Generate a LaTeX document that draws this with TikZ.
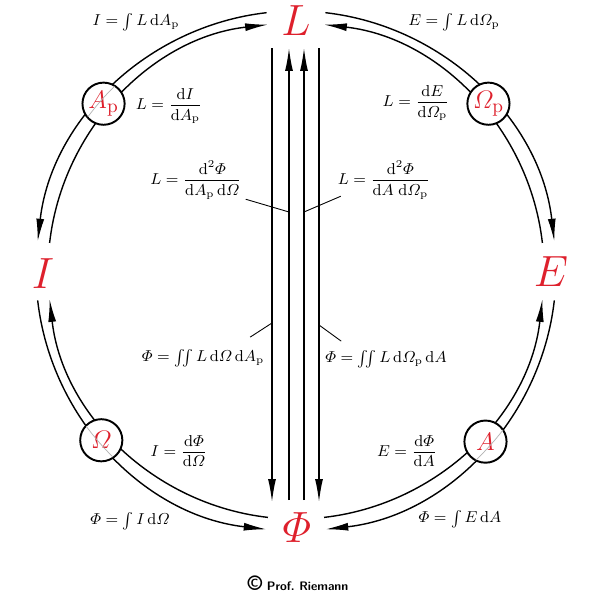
\documentclass[tikz,border=0pt]{standalone}
\usepackage{amsmath}
\usetikzlibrary{arrows.meta,calc,backgrounds}
\definecolor{QuantityRed}{RGB}{222,32,44}
\tikzset{%
	% Style of the radiometric quantity
	Quantity/.style={font=\fontsize{32}{32}\selectfont,text=QuantityRed,inner sep=0},
	% Style of the circled measure
	Measure/.style={circle,draw=black,line width=1.1pt,fill=white,inner sep=0,
		minimum size=24pt,text=QuantityRed,font=\fontsize{15}{15}\selectfont},
	% Style of the formula
	Formula/.style={font=\small,inner sep=1pt},
	% Style of the circular flow
	Flow/.style={line width=0.8pt,-{Latex[length=13pt,width=4.5pt]}},
	% Style of the vertical beam
	Beam/.style={line width=0.8pt},
	% Style of the leader line
	Leader/.style={line width=0.5pt},
	% Style of the line seen through a circle
	Trace/.style={gray!60,line width=0.4pt},
}

\begin{document}
\begin{tikzpicture}[x=0.02cm,y=0.02cm] % STYLES
\useasboundingbox (0,0) rectangle (600,600);

%~~~~~~~~~~~~~~~~~~~~~~~~~~~~~~~~~~~~~~~~~~~~~~~~~~
% Set Nodes
%~~~~~~~~~~~~~~~~~~~~~~~~~~~~~~~~~~~~~~~~~~~~~~~~~~
\coordinate (O) at (296, 329);

\node[Quantity] (L) at (296, 579) {$L$};
\node[Quantity] (I) at (43, 326) {$I$};
\node[Quantity] (E) at (551, 328) {$E$};
\node[Quantity] (Phi) at (297, 72) {$\varPhi$};

\node[Measure] (Ap) at ($(O)+(139:255)$) {$A_\mathrm{p}$};
\node[Measure] (Omp) at ($(O)+(41:255)$) {$\varOmega_\mathrm{p}$};
\node[Measure] (Om) at ($(O)+(221:258)$) {$\varOmega$};
\node[Measure] (A) at ($(O)+(318:255)$) {$A$};

\node[Formula] (IfromL) at (136, 578) {$I=\int L\,\mathrm{d}A_\mathrm{p}$};
\node[Formula] (EfromL) at (454, 578) {$E=\int L\,\mathrm{d}\varOmega_\mathrm{p}$};
\node[Formula] (LfromI) at (169, 494) {$L=\dfrac{\mathrm{d}I}{\mathrm{d}A_\mathrm{p}}$};
\node[Formula] (LfromE) at (416, 497) {$L=\dfrac{\mathrm{d}E}{\mathrm{d}\varOmega_\mathrm{p}}$};
\node[Formula] (LfromPhiL) at (196, 420) {$L=\dfrac{\mathrm{d}^2\varPhi}{\mathrm{d}A_\mathrm{p}\,\mathrm{d}\varOmega}$};
\node[Formula] (LfromPhiR) at (384, 420) {$L=\dfrac{\mathrm{d}^2\varPhi}{\mathrm{d}A\;\mathrm{d}\varOmega_\mathrm{p}}$};
\node[Formula] (PhifromLL) at (203, 242) {$\varPhi=\iint L\,\mathrm{d}\varOmega\,\mathrm{d}A_\mathrm{p}$};
\node[Formula] (PhifromLR) at (386, 241) {$\varPhi=\iint L\,\mathrm{d}\varOmega_\mathrm{p}\,\mathrm{d}A$};
\node[Formula] (IfromPhi) at (179, 149) {$I=\dfrac{\mathrm{d}\varPhi}{\mathrm{d}\varOmega}$};
\node[Formula] (EfromPhi) at (407, 149) {$E=\dfrac{\mathrm{d}\varPhi}{\mathrm{d}A}$};
\node[Formula] (PhifromI) at (130, 79) {$\varPhi=\int I\,\mathrm{d}\varOmega$};
\node[Formula] (PhifromE) at (460, 81) {$\varPhi=\int E\,\mathrm{d}A$};

\node[font=\sffamily\bfseries\fontsize{7}{7}\selectfont] (Credit) at (298, 17) {{\large\textcopyright}\ Prof.\ Riemann};

%~~~~~~~~~~~~~~~~~~~~~~~~~~~~~~~~~~~~~~~~~~~~~~~~~~
% Set Branches
%~~~~~~~~~~~~~~~~~~~~~~~~~~~~~~~~~~~~~~~~~~~~~~~~~~
\begin{scope}[on background layer]
%Branch from L to I and back
\draw[Flow] ($(O)+(96.5:260)$) arc[start angle=96.5, end angle=173.5, radius=260];
\draw[Flow] ($(O)+(173.5:248)$) arc[start angle=173.5, end angle=96.5, radius=248];

%Branch from L to E and back
\draw[Flow] ($(O)+(83.5:260)$) arc[start angle=83.5, end angle=6.5, radius=260];
\draw[Flow] ($(O)+(6.5:248)$) arc[start angle=6.5, end angle=83.5, radius=248];

%Branch from I to Phi and back
\draw[Flow] ($(O)+(186.5:260)$) arc[start angle=186.5, end angle=263.5, radius=260];
\draw[Flow] ($(O)+(263.5:248)$) arc[start angle=263.5, end angle=186.5, radius=248];

%Branch from E to Phi and back
\draw[Flow] ($(O)+(353.5:260)$) arc[start angle=353.5, end angle=276.5, radius=260];
\draw[Flow] ($(O)+(276.5:248)$) arc[start angle=276.5, end angle=353.5, radius=248];
\end{scope}

%Outer line seen through the circles
\draw[Trace] ($(O)+(134.5:259)$) arc[start angle=134.5, end angle=143.5, radius=259];
\draw[Trace] ($(O)+(216.5:261)$) arc[start angle=216.5, end angle=225.5, radius=261];
\draw[Trace] ($(O)+(313.5:261)$) arc[start angle=313.5, end angle=322.5, radius=261];

%Beams between L and Phi
\coordinate (B1t) at (272, 552); \coordinate (B1b) at (272, 98);
\coordinate (B2t) at (289, 552); \coordinate (B2b) at (289, 100);
\coordinate (B3t) at (304, 552); \coordinate (B3b) at (304, 100);
\coordinate (B4t) at (319, 552); \coordinate (B4b) at (319, 98);
\draw[Beam, -{Latex[length=13pt,width=4.5pt]}] (B1t) -- (B1b);
\draw[Beam, -{Latex[length=13pt,width=4.5pt]}] (B2b) -- (B2t);
\draw[Beam, -{Latex[length=13pt,width=4.5pt]}] (B3b) -- (B3t);
\draw[Beam, -{Latex[length=13pt,width=4.5pt]}] (B4t) -- (B4b);

%Leaders to the beams
\coordinate (P2) at (289, 388);
\coordinate (P3) at (304, 388);
\coordinate (P1) at (272, 277);
\coordinate (P4) at (319, 275);
\draw[Leader] ($(LfromPhiL.south east)+(2,2)$) -- (P2);
\draw[Leader] ($(LfromPhiR.south west)+(5,5)$) -- (P3);
\draw[Leader] ($(PhifromLL.north east)+(-16,10)$) -- (P1);
\draw[Leader] ($(PhifromLR.north west)+(18,7)$) -- (P4);

\end{tikzpicture}
\end{document}
